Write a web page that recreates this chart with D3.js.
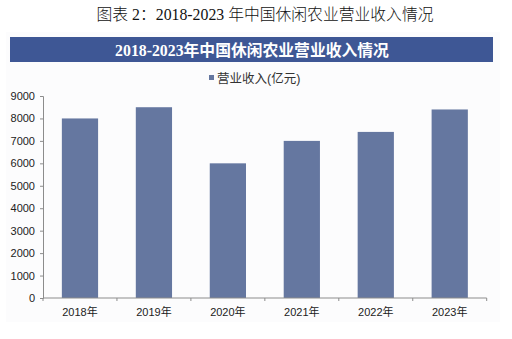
<!DOCTYPE html>
<html>
<head>
<meta charset="utf-8">
<script src="https://cdn.jsdelivr.net/npm/d3@7"></script>
<style>
  html, body { margin: 0; padding: 0; background: #fff; }
  svg { display: block; }
</style>
</head>
<body>
<script>
// Annual operating revenue of China's leisure agriculture (100 million yuan)
const years = ["2018年", "2019年", "2020年", "2021年", "2022年", "2023年"];
const revenue = [8000, 8500, 6000, 7000, 7400, 8400];
const yTicks = [0, 1000, 2000, 3000, 4000, 5000, 6000, 7000, 8000, 9000];
const figureTitle = "图表 2：2018-2023 年中国休闲农业营业收入情况";
const bannerTitle = "2018-2023年中国休闲农业营业收入情况";
const seriesName = "营业收入(亿元)";

const W = 512, H = 339;
const margin = { left: 43, right: 25, top: 96, bottom: 41 };
const barColor = "#6577a0";
const bannerColor = "#3e5795";
const axisColor = "#8c8c8c";
const labelFont = "'Liberation Sans', Arial, 'Noto Sans CJK SC', sans-serif";

const svg = d3.select("body").append("svg")
  .attr("width", W).attr("height", H);

// Figure caption
svg.append("text")
  .attr("x", 265).attr("y", 20)
  .attr("text-anchor", "middle")
  .style("font-family", "'Liberation Serif', 'Noto Sans CJK SC', serif")
  .style("font-weight", "300")
  .style("font-size", "15.8px")
  .style("fill", "#111")
  .text(figureTitle);

// Faint chart panel
svg.append("rect")
  .attr("x", 6).attr("y", 32).attr("width", 494).attr("height", 290)
  .attr("fill", "#fcfcfd");

// Banner title
svg.append("rect")
  .attr("x", 10).attr("y", 37).attr("width", 483).attr("height", 25)
  .attr("fill", bannerColor);
svg.append("text")
  .attr("x", 252).attr("y", 55.5)
  .attr("text-anchor", "middle")
  .style("font-family", "'Liberation Serif', 'Noto Sans CJK SC', serif")
  .style("font-weight", "bold")
  .style("font-size", "15.8px")
  .style("fill", "#fff")
  .text(bannerTitle);

// Legend
const legend = svg.append("g").attr("transform", "translate(209,78)");
legend.append("rect")
  .attr("x", 0).attr("y", -3).attr("width", 5).attr("height", 5)
  .attr("fill", barColor);
legend.append("text")
  .attr("x", 8).attr("y", 4.5)
  .style("font-family", labelFont)
  .style("font-size", "12.5px")
  .style("fill", "#333")
  .text(seriesName);

// Plot area
const plotBottom = 298;
const x = d3.scaleBand()
  .domain(years)
  .range([margin.left, 486.7])
  .paddingInner(0.51)
  .paddingOuter(0.255);
const y = d3.scaleLinear()
  .domain([0, 9000])
  .range([plotBottom, 96]);

svg.append("g")
  .selectAll("rect")
  .data(revenue)
  .join("rect")
  .attr("x", (d, i) => x(years[i]))
  .attr("y", d => y(d))
  .attr("width", x.bandwidth())
  .attr("height", d => y(0) - y(d))
  .attr("fill", barColor);

// Y axis
const yAxis = svg.append("g")
  .attr("transform", `translate(${margin.left},0)`)
  .call(d3.axisLeft(y).tickValues(yTicks).tickSize(3).tickPadding(5).tickFormat(d3.format("d")));
yAxis.select(".domain").attr("stroke", axisColor);
yAxis.selectAll(".tick line").attr("stroke", axisColor);
yAxis.selectAll("text")
  .style("font-family", labelFont)
  .style("font-size", "11px")
  .style("fill", "#222");

// X axis with ticks on category boundaries
const xAxisG = svg.append("g").attr("transform", `translate(0,${plotBottom})`);
xAxisG.append("line")
  .attr("x1", margin.left).attr("x2", 486.7)
  .attr("stroke", axisColor);
const step = x.step();
xAxisG.selectAll("line.bound")
  .data(d3.range(years.length + 1))
  .join("line")
  .attr("class", "bound")
  .attr("x1", i => margin.left + i * step)
  .attr("x2", i => margin.left + i * step)
  .attr("y1", 0).attr("y2", 3)
  .attr("stroke", axisColor);
xAxisG.selectAll("text")
  .data(years)
  .join("text")
  .attr("x", d => x(d) + x.bandwidth() / 2)
  .attr("y", 17.5)
  .attr("text-anchor", "middle")
  .style("font-family", labelFont)
  .style("font-size", "11px")
  .style("fill", "#222")
  .text(d => d);
</script>
</body>
</html>
